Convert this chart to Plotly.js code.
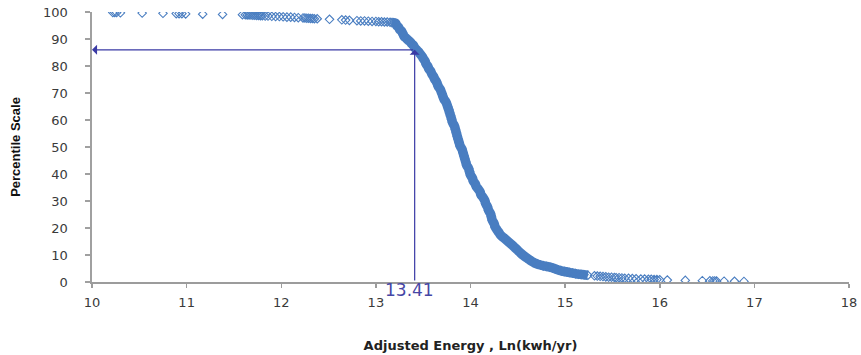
<!DOCTYPE html>
<html>
<head>
<meta charset="utf-8">
<script src="https://cdn.plot.ly/plotly-3.0.1.min.js"></script>
<style>html,body{margin:0;padding:0;background:#fff;}#chart{width:861px;height:355px;}</style>
</head>
<body>
<div id="chart"></div>
<script>
// Adjusted energy Ln(kwh/yr) vs percentile scale
const energy = [
  10.22,10.24,10.26,10.30,10.53,10.75,10.89,10.92,10.95,10.99,11.17,11.38,11.59,
  11.62,11.64,11.66,11.68,11.70,11.72,11.74,11.76,11.78,11.80,11.83,11.86,11.90,11.94,11.98,
  12.02,12.06,12.10,12.14,12.18,12.23,12.25,12.27,12.29,12.31,12.33,12.35,12.38,12.51,
  12.64,12.68,12.72,12.80,12.84,12.88,12.92,12.96,13.00,13.03,13.06,13.09,13.12,13.15,13.17,13.19,13.21,
  13.22,13.24,13.25,13.27,13.28,13.29,13.30,13.32,13.34,13.36,13.38,13.40,13.41,13.43,13.45,
  13.47,13.49,13.50,13.52,13.53,13.55,13.56,13.58,13.59,13.61,13.62,13.64,13.65,13.66,13.68,
  13.69,13.70,13.71,13.72,13.74,13.75,13.76,13.77,13.78,13.79,13.80,13.81,13.83,13.84,13.85,
  13.86,13.87,13.88,13.89,13.91,13.92,13.93,13.94,13.95,13.96,13.98,13.99,14.00,14.02,14.03,
  14.05,14.06,14.08,14.10,14.11,14.13,14.15,14.16,14.18,14.19,14.21,14.22,14.23,14.25,14.26,
  14.28,14.30,14.32,14.35,14.38,14.41,14.44,14.47,14.50,14.53,14.56,14.59,14.62,14.65,14.68,
  14.71,14.74,14.77,14.80,14.84,14.87,14.90,14.93,14.96,14.99,15.02,15.05,15.08,15.11,15.14,
  15.17,15.20,15.24,
  15.31,15.34,15.37,15.40,15.43,15.46,15.49,15.52,15.54,15.57,15.60,15.63,15.67,15.71,15.75,
  15.80,15.84,15.88,15.91,15.94,15.97,16.00,16.08,16.27,16.45,16.53,16.56,16.58,16.60,16.68,
  16.79,16.89
];
const percentile = [
  99.8,99.8,99.8,99.7,99.6,99.5,99.4,99.4,99.4,99.3,99.2,99.1,99.0,
  98.95,98.9,98.9,98.85,98.8,98.8,98.7,98.7,98.6,98.6,98.5,98.5,98.4,98.3,98.3,
  98.2,98.1,98.1,98.0,97.9,97.8,97.8,97.7,97.7,97.6,97.6,97.5,97.5,97.3,
  97.1,97.0,96.9,96.8,96.7,96.7,96.6,96.5,96.5,96.4,96.4,96.3,96.3,96.2,96.1,96.0,95.8,
  95.0,94.3,93.6,93.0,92.3,91.6,90.9,90.3,89.6,89.0,88.2,87.5,86.8,86.0,85.3,
  84.4,83.5,82.8,81.8,80.8,79.8,78.9,78.0,77.1,76.1,75.2,74.2,73.3,72.4,71.4,
  70.5,69.6,68.6,67.7,66.7,65.8,64.8,63.8,62.6,61.5,60.3,59.1,57.8,56.6,55.3,
  54.0,52.8,51.6,50.4,49.2,48.0,46.8,45.6,44.4,43.2,42.0,40.8,39.6,38.5,37.4,
  36.4,35.4,34.5,33.5,32.4,31.4,30.3,29.1,27.8,26.6,25.4,24.2,22.9,21.6,20.4,
  19.3,18.3,17.3,16.4,15.5,14.6,13.7,12.7,11.7,10.7,9.8,9.0,8.3,7.6,7.0,
  6.6,6.3,6.0,5.8,5.5,5.2,4.8,4.4,4.1,3.9,3.7,3.5,3.3,3.1,2.9,
  2.8,2.7,2.5,
  2.3,2.2,2.1,2.0,1.9,1.8,1.8,1.7,1.6,1.6,1.5,1.4,1.4,1.3,1.2,
  1.1,1.1,1.0,1.0,0.9,0.9,0.8,0.7,0.6,0.5,0.45,0.4,0.4,0.35,0.3,
  0.25,0.2
];
const xTicks = [10,11,12,13,14,15,16,17,18];
const yTicks = [0,10,20,30,40,50,60,70,80,90,100];
const markEnergy = 13.41;     // marked value
const markPercentile = 86;    // its percentile
const markLabel = '13.41';
const denseFrom = 13.17, denseTo = 15.24;  // region where points overlap into a solid band

const blue = 'rgb(74,126,193)';
const navy = 'rgb(58,58,165)';

const bandX = [], bandY = [];
energy.forEach((e, i) => { if (e >= denseFrom && e <= denseTo) { bandX.push(e); bandY.push(percentile[i]); } });

const traces = [
  { x: bandX, y: bandY, type: 'scatter', mode: 'lines', line: {color: blue, width: 9.5, shape: 'spline'}, hoverinfo: 'skip', showlegend: false },
  { x: energy, y: percentile, type: 'scatter', mode: 'markers', showlegend: false,
    marker: {symbol: 'diamond-open', size: 6.5, color: blue, line: {width: 1.1, color: blue}} }
];

const layout = {
  width: 861, height: 355,
  margin: {l: 92, r: 12, t: 12, b: 73},
  paper_bgcolor: '#fff', plot_bgcolor: '#fff',
  showlegend: false,
  font: {family: 'DejaVu Sans, sans-serif', color: '#3a3a3a', size: 13},
  xaxis: {
    range: [10, 18], tickvals: xTicks, ticktext: xTicks.map(String),
    showgrid: false, zeroline: false,
    showline: true, linecolor: '#9c9c9c', linewidth: 1.5,
    ticks: 'outside', ticklen: 4, tickcolor: '#9c9c9c', tickwidth: 1.5,
    tickfont: {family: 'DejaVu Sans, sans-serif', size: 13, color: '#3a3a3a'},
    ticklabelstandoff: 4,
    title: {text: 'Adjusted Energy , Ln(kwh/yr)', standoff: 32,
            font: {family: 'DejaVu Sans, sans-serif', size: 13, color: '#222', weight: 'bold'}}
  },
  yaxis: {
    range: [0, 100], tickvals: yTicks, ticktext: yTicks.map(String),
    showgrid: false, zeroline: false,
    showline: true, linecolor: '#a0a0a0', linewidth: 2.5,
    ticks: 'outside', ticklen: 5, tickcolor: '#a0a0a0', tickwidth: 1.5,
    tickfont: {family: 'DejaVu Sans, sans-serif', size: 13, color: '#3a3a3a'},
    ticklabelstandoff: 14,
    title: {text: 'Percentile Scale', standoff: 20,
            font: {family: 'Liberation Sans Narrow, Arial Narrow, Liberation Sans, sans-serif', size: 13, color: '#111', weight: 'bold'}}
  },
  annotations: [
    { x: 10, y: markPercentile, xref: 'x', yref: 'y', ax: markEnergy, ay: markPercentile, axref: 'x', ayref: 'y',
      showarrow: true, arrowhead: 1, arrowsize: 1.4, arrowwidth: 1.2, arrowcolor: navy, text: '' },
    { x: markEnergy, y: markPercentile, xref: 'x', yref: 'y', ax: markEnergy, ay: 0, axref: 'x', ayref: 'y',
      showarrow: true, arrowhead: 1, arrowsize: 1.4, arrowwidth: 1.2, arrowcolor: navy, text: '' },
    { x: markEnergy, y: 0, xref: 'x', yref: 'y', text: markLabel, showarrow: false,
      xshift: -5, yshift: -8, font: {family: 'DejaVu Sans, sans-serif', size: 17, color: 'rgb(70,70,165)'} }
  ]
};

Plotly.newPlot('chart', traces, layout, {staticPlot: true, displayModeBar: false});
</script>
</body>
</html>
